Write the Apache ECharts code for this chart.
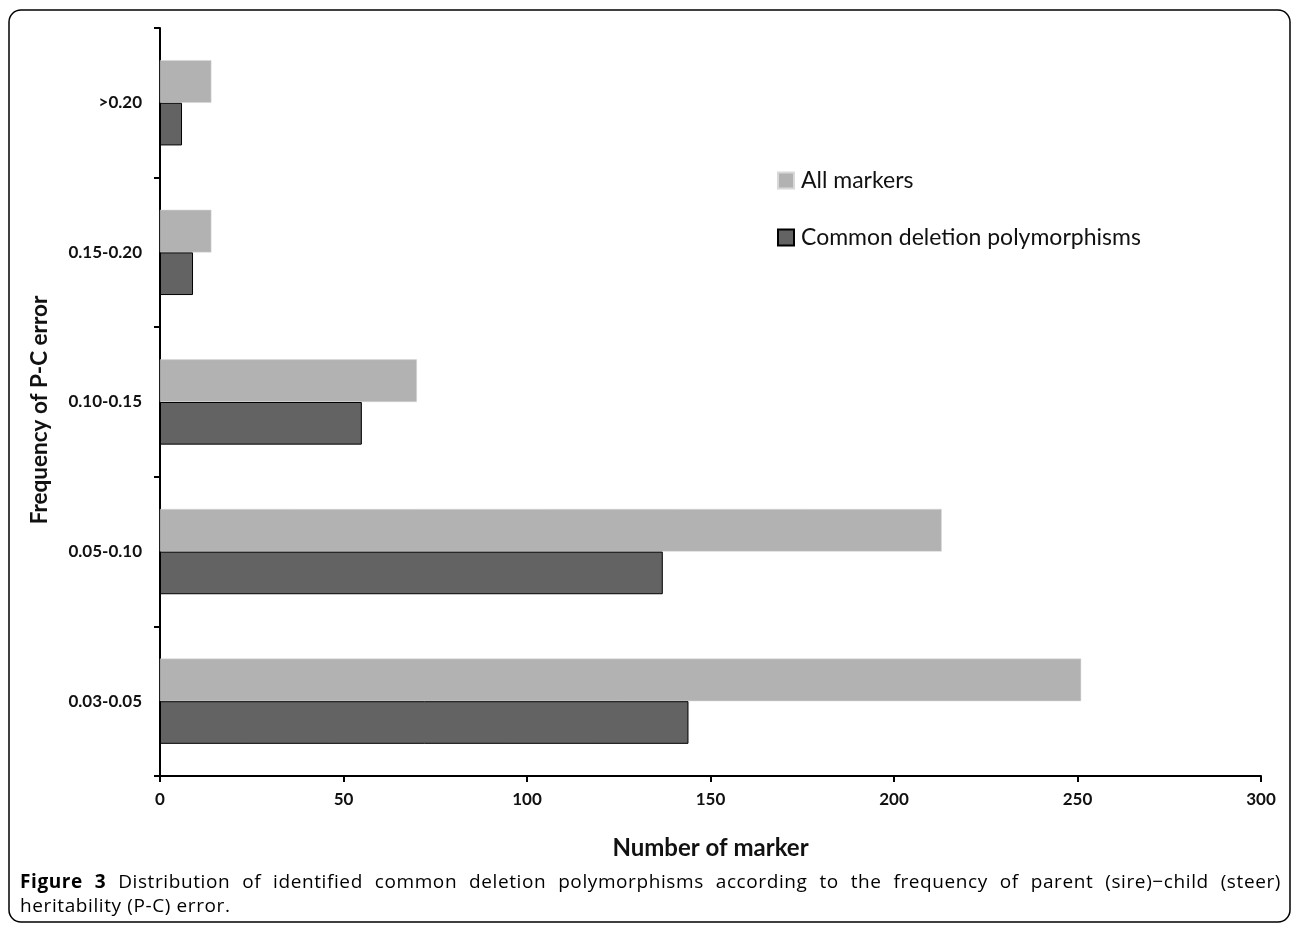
<!DOCTYPE html>
<html>
<head>
<meta charset="utf-8">
<script src="https://cdn.jsdelivr.net/npm/echarts@6/dist/echarts.min.js"></script>
<style>
  html, body { margin: 0; padding: 0; background: #fff; }
  #wrap { position: relative; width: 1293px; height: 926px; }
  #chart { position: absolute; left: 0; top: 0; width: 1293px; height: 926px; }
  #caption { position: absolute; left: 20px; top: 869px; width: 1261px;
    font-family: "Open Sans", "Noto Sans", sans-serif; font-size: 19px; line-height: 24px;
    letter-spacing: 0.6px; color: #000; font-weight: 500; }
  #caption .l1 { text-align: justify; text-align-last: justify; }
</style>
</head>
<body>
<div id="wrap">
  <div id="chart"></div>
  <div id="caption">
    <div class="l1"><b>Figure 3</b> Distribution of identified common deletion polymorphisms according to the frequency of parent (sire)−child (steer)</div>
    <div>heritability (P-C) error.</div>
  </div>
</div>
<script>
// Categories listed top to bottom as in the figure
const categories = ['>0.20', '0.15-0.20', '0.10-0.15', '0.05-0.10', '0.03-0.05'];
const allMarkers = [14, 14, 70, 213, 251];
const commonDeletion = [6, 9, 55, 137, 144];
const xTicks = { min: 0, max: 300, interval: 50 };
const seriesNames = ['All markers', 'Common deletion polymorphisms'];

const chart = echarts.init(document.getElementById('chart'), null, { renderer: 'canvas' });
const font = 'Lato, "Open Sans", sans-serif';
chart.setOption({
  animation: false,
  backgroundColor: '#fff',
  grid: { left: 160, right: 32, top: 28, bottom: 150, containLabel: false },
  legend: {
    orient: 'vertical', left: 777, top: 169, padding: 0,
    itemWidth: 16, itemHeight: 16, itemGap: 34, icon: 'rect',
    data: seriesNames,
    textStyle: { fontFamily: font, fontSize: 23, color: '#111', padding: [0, 0, 0, 2] }
  },
  xAxis: {
    type: 'value', min: xTicks.min, max: xTicks.max, interval: xTicks.interval,
    name: 'Number of marker', nameLocation: 'middle', nameGap: 60,
    nameTextStyle: { fontFamily: font, fontSize: 24, fontWeight: 'bold', color: '#111' },
    axisLine: { show: true, lineStyle: { color: '#000', width: 2 } },
    axisTick: { show: true, length: 6, lineStyle: { color: '#000', width: 2 } },
    axisLabel: { margin: 15, fontFamily: font, fontSize: 17, fontWeight: 'bold', color: '#111' },
    splitLine: { show: false }
  },
  yAxis: {
    type: 'category', data: categories, inverse: true,
    name: 'Frequency of P-C error', nameLocation: 'middle', nameGap: 109,
    nameTextStyle: { fontFamily: font, fontSize: 22.5, fontWeight: 'bold', color: '#111', padding: [0, 16, 0, 0] },
    axisLine: { show: true, lineStyle: { color: '#000', width: 2 } },
    axisTick: { show: true, length: 6, lineStyle: { color: '#000', width: 2 } },
    axisLabel: { margin: 18, fontFamily: font, fontSize: 17, fontWeight: 'bold', color: '#111' }
  },
  series: [
    {
      name: seriesNames[0], type: 'bar', data: allMarkers,
      barGap: '0%', barCategoryGap: '43%',
      itemStyle: { color: '#b2b2b2', borderColor: '#d8d8d8', borderWidth: 0.5 }
    },
    {
      name: seriesNames[1], type: 'bar', data: commonDeletion,
      barGap: '0%', barCategoryGap: '43%',
      itemStyle: { color: '#636363', borderColor: '#000', borderWidth: 1 }
    }
  ],
  graphic: [
    {
      type: 'rect', silent: true, z: 100,
      shape: { x: 9, y: 10, width: 1281, height: 912, r: 12 },
      style: { fill: 'none', stroke: '#000', lineWidth: 1.5 }
    }
  ]
});
</script>
</body>
</html>
